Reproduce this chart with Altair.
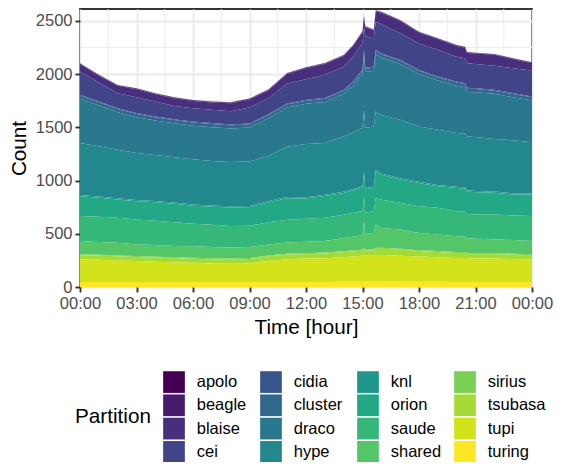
import altair as alt
import pandas as pd

hours = [0, 1, 2, 3, 4, 5, 6, 7, 8, 9, 10, 11, 12, 13, 14, 14.5, 15, 15.08, 15.15, 15.6, 15.7,
         16, 17, 18, 19, 20, 20.45, 20.55, 21, 22, 23, 24]

apolo   = [3, 3, 3, 3, 3, 3, 3, 3, 3, 3, 3, 3, 3, 3, 3, 3, 3, 3, 3, 3, 3, 3, 3, 3, 3, 3, 3, 3, 3, 3, 3, 3]
beagle  = [6, 6, 6, 6, 6, 6, 6, 6, 6, 6, 6, 6, 6, 6, 6, 6, 6, 6, 6, 6, 6, 6, 6, 6, 6, 6, 6, 6, 6, 6, 6, 6]
blaise  = [69, 63, 69, 75, 69, 72, 69, 69, 75, 75, 75, 91, 103, 100, 100, 100, 100, 100, 85, 75, 100,
           107, 116, 100, 100, 100, 100, 97, 97, 103, 85, 69]
cei     = [219, 178, 141, 150, 141, 125, 125, 125, 125, 150, 150, 187, 194, 219, 219, 234, 250, 219, 297, 265, 265,
           275, 250, 250, 250, 234, 234, 231, 228, 225, 234, 244]
cidia   = [8, 8, 8, 8, 8, 8, 8, 8, 8, 8, 8, 8, 8, 8, 8, 8, 8, 8, 8, 8, 8, 8, 8, 8, 8, 8, 8, 8, 8, 8, 8, 8]
cluster = [30, 30, 30, 30, 30, 30, 30, 30, 30, 30, 30, 30, 30, 30, 30, 30, 30, 30, 30, 30, 30,
           30, 30, 30, 30, 30, 30, 30, 30, 30, 30, 30]
draco   = [415, 384, 352, 337, 324, 318, 315, 318, 315, 321, 352, 368, 377, 384, 399, 440, 509, 524, 524, 524, 540,
           540, 524, 493, 462, 446, 437, 418, 421, 424, 405, 393]
hype    = [488, 472, 456, 441, 431, 425, 425, 419, 416, 416, 425, 472, 500, 488, 519, 531, 550, 581, 566, 566, 550,
           550, 550, 519, 519, 503, 503, 506, 506, 494, 497, 478]
knl     = [12, 12, 12, 12, 12, 12, 12, 12, 12, 12, 12, 12, 12, 12, 12, 12, 12, 12, 12, 12, 12,
           12, 12, 12, 12, 12, 12, 12, 12, 12, 12, 12]
orion   = [187, 178, 172, 172, 175, 175, 169, 169, 172, 175, 187, 203, 191, 203, 203, 212, 219, 219, 219, 219, 250,
           234, 219, 219, 203, 219, 219, 212, 209, 203, 197, 203]
saude   = [234, 237, 234, 234, 228, 222, 212, 209, 203, 200, 209, 212, 215, 219, 219, 225, 228, 234, 203, 203, 250,
           265, 250, 250, 250, 234, 234, 228, 228, 234, 231, 234]
shared  = [125, 119, 119, 109, 109, 106, 109, 106, 103, 103, 103, 106, 109, 109, 125, 128, 137, 250, 147, 156, 219,
           187, 181, 162, 156, 150, 144, 137, 137, 131, 128, 125]
sirius  = [8, 8, 8, 8, 8, 8, 8, 8, 8, 8, 8, 8, 8, 8, 8, 8, 8, 8, 8, 8, 8, 8, 8, 8, 8, 8, 8, 8, 8, 8, 8, 8]
tsubasa = [39, 39, 39, 39, 39, 39, 39, 40, 42, 40, 44, 45, 42, 45, 48, 50, 48, 60, 48, 50, 60,
           60, 58, 52, 50, 47, 47, 42, 42, 42, 42, 39]
tupi    = [212, 209, 203, 197, 191, 187, 181, 175, 172, 178, 197, 212, 219, 222, 231, 237, 244, 250, 244, 244, 250,
           250, 244, 237, 231, 225, 225, 222, 219, 219, 215, 212]
turing  = [48, 48, 47, 47, 47, 46, 46, 46, 46, 46, 47, 48, 48, 48, 49, 49, 50, 50, 50, 50, 50,
           50, 50, 49, 49, 48, 48, 48, 48, 48, 48, 48]

partitions = ["apolo", "beagle", "blaise", "cei", "cidia", "cluster", "draco", "hype",
              "knl", "orion", "saude", "shared", "sirius", "tsubasa", "tupi", "turing"]
series = [apolo, beagle, blaise, cei, cidia, cluster, draco, hype,
          knl, orion, saude, shared, sirius, tsubasa, tupi, turing]
viridis = ["#440154", "#481A6C", "#472F7D", "#414487", "#39568C", "#31688E", "#2A788E", "#23888E",
           "#1F988B", "#22A884", "#35B779", "#54C568", "#7AD151", "#A5DB36", "#D2E21B", "#FDE725"]

x_ticks = [0, 3, 6, 9, 12, 15, 18, 21, 24]
x_minor = [1.5, 4.5, 7.5, 10.5, 13.5, 16.5, 19.5, 22.5]
y_ticks = [0, 500, 1000, 1500, 2000, 2500]
y_minor = [250, 750, 1250, 1750, 2250]

rows = []
for i, (name, vals) in enumerate(zip(partitions, series)):
    for h, v in zip(hours, vals):
        rows.append({"hour": h, "count": v, "Partition": name, "rank": len(partitions) - i})
df = pd.DataFrame(rows)

FONT = "Liberation Sans"
xscale = alt.Scale(domain=[0, 24], nice=False, zero=False)
yscale = alt.Scale(domain=[0, 2612], nice=False)
xaxis = alt.Axis(values=x_ticks, title="Time [hour]", labelFlush=False, labelOverlap=False,
                 labelExpr="(datum.value % 24 < 10 ? '0' : '') + (datum.value % 24) + ':00'")
yaxis = alt.Axis(values=y_ticks, title="Count", format="d", labelFlush=False, labelOverlap=False)

minor_x = alt.Chart(pd.DataFrame({"mx": x_minor})).mark_rule(
    color="#EBEBEB", strokeWidth=1).encode(x=alt.X("mx:Q", scale=xscale, axis=xaxis, title="Time [hour]"))
minor_y = alt.Chart(pd.DataFrame({"my": y_minor})).mark_rule(
    color="#EBEBEB", strokeWidth=1).encode(y=alt.Y("my:Q", scale=yscale, axis=yaxis, title="Count"))

area = alt.Chart(df).mark_area(opacity=1, interpolate="linear").encode(
    x=alt.X("hour:Q", scale=xscale, axis=xaxis, title="Time [hour]"),
    y=alt.Y("count:Q", stack="zero", scale=yscale, axis=yaxis, title="Count"),
    color=alt.Color("Partition:N",
                    scale=alt.Scale(domain=partitions, range=viridis),
                    legend=alt.Legend(orient="none", legendX=-5, legendY=362, columns=4,
                                      titleOrient="left", titleAnchor="middle",
                                      symbolType="square", symbolSize=471, symbolStrokeWidth=0,
                                      symbolOpacity=1, labelFontSize=16.5, titleFontSize=20.7,
                                      titleFontWeight="normal", labelColor="#000000",
                                      titleColor="#000000", rowPadding=1.3, columnPadding=5,
                                      gridAlign="all", labelOffset=11.7, titlePadding=12,
                                      labelFont=FONT, titleFont=FONT)),
    order=alt.Order("rank:Q", sort="ascending"),
)

chart = alt.layer(minor_x, minor_y, area).properties(
    width=452, height=278,
    autosize=alt.AutoSizeParams(type="none"),
    padding={"left": 72, "top": 1, "right": 21, "bottom": 175},
).configure_view(stroke="#333333", strokeWidth=1.9).configure_axis(
    labelFont=FONT, titleFont=FONT, labelFontSize=16.5, titleFontSize=20.7,
    labelColor="#4D4D4D", titleColor="#000000", titleFontWeight="normal",
    tickColor="#333333", tickWidth=1.9, tickSize=5, domain=False,
    gridColor="#EBEBEB", gridWidth=1.9, labelPadding=3,
).configure_axisX(titlePadding=6).configure_axisY(titlePadding=6)

chart.save("out.html", embed_options={"renderer": "svg", "actions": False})
